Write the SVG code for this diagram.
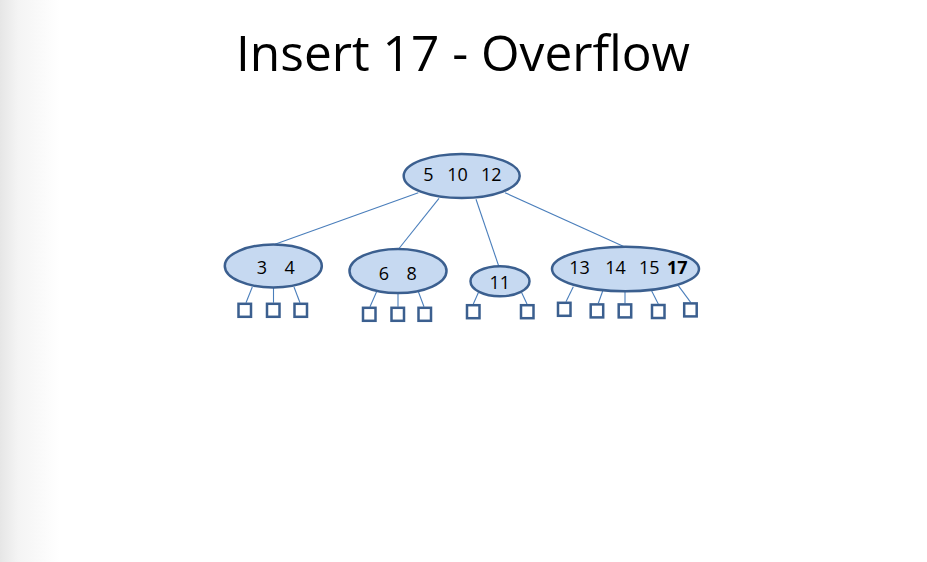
<svg xmlns="http://www.w3.org/2000/svg" width="927" height="562" viewBox="0 0 927 562">
<defs>
<linearGradient id="edge" x1="0" y1="0" x2="1" y2="0">
<stop offset="0" stop-color="#e6e6e6"/>
<stop offset="0.3" stop-color="#f4f4f4"/>
<stop offset="1" stop-color="#ffffff"/>
</linearGradient>
<style>
.node{fill:#c6d9f1;stroke:#3b5f8f;stroke-width:2.5}
.leaf{fill:#ffffff;stroke:#3b5f8f;stroke-width:2.5}
.edge{stroke:#4a7ebb;stroke-width:1.1;fill:none}
.lbl{font-family:"Open Sans","Liberation Sans",sans-serif;font-size:18px;fill:#000;text-anchor:middle}
.b{font-weight:bold}
.title{font-family:"Open Sans","Liberation Sans",sans-serif;font-size:50px;fill:#000}
</style>
</defs>
<rect x="0" y="0" width="927" height="562" fill="#ffffff"/>
<rect x="0" y="0" width="60" height="562" fill="url(#edge)"/>
<text id="title" class="title" x="236" y="71" textLength="454" lengthAdjust="spacingAndGlyphs">Insert 17 - Overflow</text>
<g id="connectors">
<line class="edge" x1="418.3" y1="192.7" x2="275" y2="244.3"/>
<line class="edge" x1="439" y1="198.3" x2="399" y2="248.5"/>
<line class="edge" x1="476" y1="199.3" x2="498.7" y2="266"/>
<line class="edge" x1="505" y1="192.7" x2="624.3" y2="246.7"/>
<line class="edge" x1="252.3" y1="287" x2="246" y2="302.7"/>
<line class="edge" x1="273.5" y1="288" x2="273.5" y2="302.7"/>
<line class="edge" x1="294" y1="287" x2="300" y2="302.7"/>
<line class="edge" x1="376.7" y1="291.5" x2="370" y2="306.7"/>
<line class="edge" x1="398" y1="293" x2="398" y2="306.7"/>
<line class="edge" x1="418.3" y1="291.5" x2="424" y2="306.7"/>
<line class="edge" x1="478.3" y1="292.7" x2="473.3" y2="304"/>
<line class="edge" x1="521.7" y1="292.7" x2="527" y2="304"/>
<line class="edge" x1="573.3" y1="286.7" x2="566" y2="301.7"/>
<line class="edge" x1="602.7" y1="291" x2="598.3" y2="303.3"/>
<line class="edge" x1="625" y1="291.5" x2="625" y2="303.3"/>
<line class="edge" x1="651.7" y1="291" x2="658.3" y2="304"/>
<line class="edge" x1="678.3" y1="285.7" x2="690.7" y2="302.3"/>
</g>
<g id="root">
<ellipse class="node" cx="461.7" cy="176" rx="58" ry="22"/>
<text class="lbl" y="181"><tspan x="428.3">5</tspan><tspan x="457.5">10</tspan><tspan x="491.2">12</tspan></text>
</g>
<g id="n34">
<ellipse class="node" cx="273.3" cy="266" rx="48.5" ry="21.5"/>
<text class="lbl" y="274.3"><tspan x="262">3</tspan><tspan x="289.7">4</tspan></text>
</g>
<g id="n68">
<ellipse class="node" cx="398" cy="271" rx="48.5" ry="22"/>
<text class="lbl" y="280"><tspan x="383.8">6</tspan><tspan x="411.7">8</tspan></text>
</g>
<g id="n11">
<ellipse class="node" cx="500" cy="281.3" rx="29.5" ry="15"/>
<text class="lbl" x="499.7" y="289.3">11</text>
</g>
<g id="n13">
<ellipse class="node" cx="625.5" cy="269" rx="73.5" ry="22.3"/>
<text class="lbl" y="274.3"><tspan x="579.5">13</tspan><tspan x="615.5">14</tspan><tspan x="649.2">15</tspan><tspan class="b" x="677.2">17</tspan></text>
</g>
<g id="leaves">
<rect class="leaf" x="238.5" y="303.8" width="12.5" height="13"/>
<rect class="leaf" x="267" y="303.8" width="12.5" height="13"/>
<rect class="leaf" x="294.5" y="303.8" width="12.5" height="13"/>
<rect class="leaf" x="363" y="307.8" width="12.5" height="13"/>
<rect class="leaf" x="391.5" y="307.8" width="12.5" height="13"/>
<rect class="leaf" x="418.5" y="307.8" width="12.5" height="13"/>
<rect class="leaf" x="467" y="305.2" width="12.5" height="13"/>
<rect class="leaf" x="521" y="305.2" width="12.5" height="13"/>
<rect class="leaf" x="558" y="302.8" width="12.5" height="13"/>
<rect class="leaf" x="590.7" y="304.4" width="12.5" height="13"/>
<rect class="leaf" x="618.7" y="304.4" width="12.5" height="13"/>
<rect class="leaf" x="652" y="305" width="12.5" height="13"/>
<rect class="leaf" x="684.2" y="303.4" width="12.5" height="13"/>
</g>
</svg>
